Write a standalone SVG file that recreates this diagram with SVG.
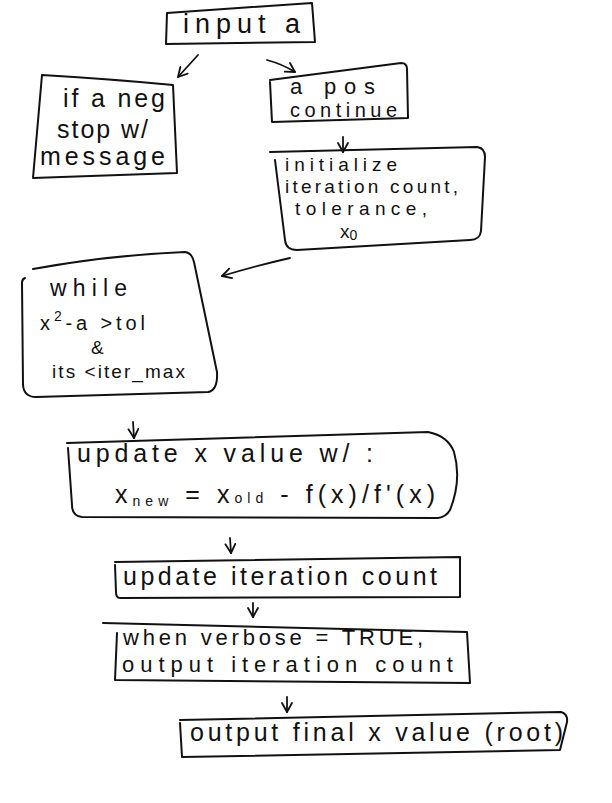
<svg xmlns="http://www.w3.org/2000/svg" width="612" height="803" viewBox="0 0 612 803">
<defs>
<style>
.box{fill:none;stroke:#111;stroke-width:2;stroke-linejoin:round;stroke-linecap:round}
.con{fill:none;stroke:#111;stroke-width:1.8;stroke-linecap:round}
text{font-family:"Liberation Sans","DejaVu Sans",sans-serif;fill:#111}
.s{font-size:14px}
</style>
<marker id="ah" viewBox="0 0 12 12" refX="10" refY="6" markerWidth="12" markerHeight="12" markerUnits="userSpaceOnUse" orient="auto">
<path d="M1,1 L10,6 L1,11" fill="none" stroke="#111" stroke-width="1.8" stroke-linecap="round" stroke-linejoin="round"/>
</marker>
</defs>
<rect width="612" height="803" fill="#fff"/>

<g id="connectors">
<path class="con" d="M198,55 L178,77" marker-end="url(#ah)"/>
<path class="con" d="M267,60 Q282,64 295,72" marker-end="url(#ah)"/>
<path class="con" d="M343,137 L343,152" marker-end="url(#ah)"/>
<path class="con" d="M290,258 Q255,266 222,276" marker-end="url(#ah)"/>
<path class="con" d="M133,422 L134,438" marker-end="url(#ah)"/>
<path class="con" d="M230,538 L231,553" marker-end="url(#ah)"/>
<path class="con" d="M253,603 L253,617" marker-end="url(#ah)"/>
<path class="con" d="M287,697 L287,712" marker-end="url(#ah)"/>
</g>

<g id="n_input">
<path class="box" d="M167,13 L312,3 L315,42 L166,44 Z"/>
<text x="183" y="33" textLength="117" lengthAdjust="spacing" font-size="27">input a</text>
</g>

<g id="n_neg">
<path class="box" d="M42,75 Q110,79 173,85 L177,173 L33,178 Z"/>
<text x="63" y="107" textLength="102" lengthAdjust="spacing" font-size="25">if a neg</text>
<text x="57" y="138" textLength="91" lengthAdjust="spacing" font-size="25">stop w/</text>
<text x="40" y="165" textLength="125" lengthAdjust="spacing" font-size="25">message</text>
</g>

<g id="n_pos">
<path class="box" d="M270,80 L401,63 Q407,63 407,69 L408,118 L272,122 L270,82"/>
<text x="290" y="94" textLength="85" lengthAdjust="spacing" font-size="22">a pos</text>
<text x="290" y="117" textLength="107" lengthAdjust="spacing" font-size="20">continue</text>
</g>

<g id="n_init">
<path class="box" d="M270,152 L477,147 Q485,148 485,157 L481,231 Q480,240 470,240 L297,250 Q286,250 285,240 L275,160"/>
<text x="285" y="171" textLength="112" lengthAdjust="spacing" font-size="19">initialize</text>
<text x="285" y="193" textLength="173" lengthAdjust="spacing" font-size="19">iteration count,</text>
<text x="295" y="215" textLength="132" lengthAdjust="spacing" font-size="19">tolerance,</text>
<text x="340" y="238" font-size="19">x<tspan class="s" dy="2">0</tspan></text>
</g>

<g id="n_while">
<path class="box" d="M33,269 Q110,255 185,252 Q192,253 194,262 L217,372 Q218,390 208,392 L36,397 Q24,397 23,385 L22,283 Q22,279 25,278"/>
<text x="50" y="296" textLength="77" lengthAdjust="spacing" font-size="23">while</text>
<text x="40" y="330" textLength="105" lengthAdjust="spacing" font-size="20">x<tspan class="s" dy="-9">2</tspan><tspan dy="9">-a &gt;tol</tspan></text>
<text x="91" y="354" font-size="19">&amp;</text>
<text x="52" y="378" textLength="133" lengthAdjust="spacing" font-size="19">its &lt;iter_max</text>
</g>

<g id="n_update_x">
<path class="box" d="M67,443 L428,432 Q448,436 454,452 Q462,480 450,510 Q446,517 438,518 L82,517 Q72,516 72,505 L68,448"/>
<text x="77" y="462" textLength="296" lengthAdjust="spacing" font-size="25">update x value w/ :</text>
<text x="115" y="503" textLength="320" lengthAdjust="spacing" font-size="25">x<tspan class="s" dy="3">new</tspan><tspan dy="-3"> = x</tspan><tspan class="s">old</tspan><tspan> - f(x)/f'(x)</tspan></text>
</g>

<g id="n_update_count">
<path class="box" d="M115,562 L460,557 L460,597 L120,598 Q116,598 116,592 L115,565"/>
<text x="123" y="585" textLength="314" lengthAdjust="spacing" font-size="25">update iteration count</text>
</g>

<g id="n_verbose">
<path class="box" d="M103,623 L467,632 L470,683 L115,680 L117,633"/>
<text x="123" y="645" textLength="300" lengthAdjust="spacing" font-size="22">when verbose = TRUE,</text>
<text x="122" y="672" textLength="331" lengthAdjust="spacing" font-size="22">output iteration count</text>
</g>

<g id="n_output">
<path class="box" d="M180,720 L561,712 Q568,714 567,722 L560,750 L182,757 L180,723"/>
<text x="190" y="741" textLength="373" lengthAdjust="spacing" font-size="25">output final x value (root)</text>
</g>
</svg>
